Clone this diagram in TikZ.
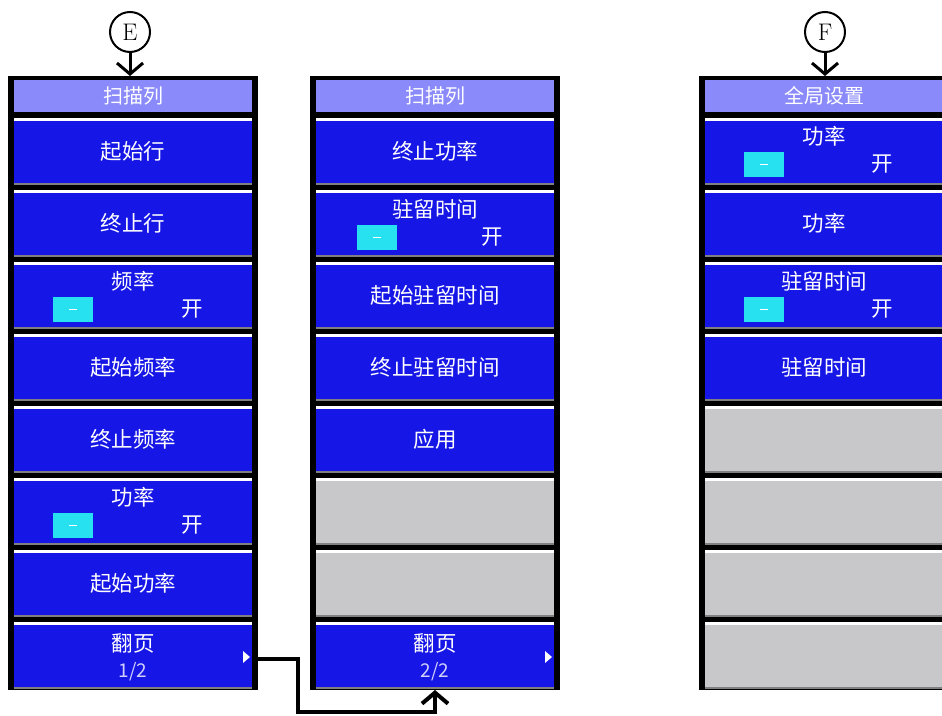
\documentclass[tikz,border=0pt]{standalone}
\usepackage{fontspec}
\newfontfamily\cjk{Noto Sans CJK SC}
\usepackage{tikz}
\usetikzlibrary{arrows.meta}
\definecolor{btnblue}{RGB}{22,22,230}
\definecolor{hdrblue}{RGB}{138,138,250}
\definecolor{btngray}{RGB}{200,200,202}
\definecolor{tglcyan}{RGB}{40,225,240}
\tikzset{
  panel/.style={draw, line width=4pt, fill=black, minimum width=246pt, minimum height=610pt, inner sep=0pt},
  hdr/.style={fill=hdrblue, minimum width=238pt, minimum height=32pt, inner sep=0pt, text=white, font=\cjk\fontsize{20}{22}\selectfont},
  menubtn/.style={fill=#1, minimum width=238pt, minimum height=66pt, inner sep=0pt,
    path picture={\draw[white, line width=5pt] (path picture bounding box.north west) -- (path picture bounding box.north east);
      \draw[gray, line width=3pt] (path picture bounding box.south west) -- (path picture bounding box.south east);}},
  menubtn/.default=btnblue,
  lbl/.style={text=white, inner sep=0pt, font=\cjk\fontsize{21.5}{24}\selectfont},
  pgno/.style={text=white!80!btnblue, inner sep=0pt, font=\cjk\fontsize{19}{21}\selectfont},
  tgl/.style={fill=tglcyan, minimum width=40pt, minimum height=25pt, inner sep=0pt,
    path picture={\draw[white, line width=1pt] ([xshift=-4pt]path picture bounding box.center) -- ([xshift=4pt]path picture bounding box.center);}},
  tag/.style={circle, draw, line width=2pt, minimum size=40pt, inner sep=0pt, font=\fontsize{24}{26}\selectfont},
  arr/.style={line width=3pt, -{Straight Barb[length=11pt, width=26pt]}},
}
\begin{document}
\begin{tikzpicture}[x=1pt, y=-1pt]
\clip (0,0) rectangle (942,715);
%\draw (0,0) rectangle (942,715);
\node[tag] (E) at (130,32) {E};
\node[tag] (F) at (825,32) {F};
\node[panel] (lpanel) at (133,383) {};
\node[panel] (mpanel) at (435,383) {};
\node[panel] (rpanel) at (824,383) {};
\node[hdr] (lhdr) at (133,96) {扫描列};
\node[hdr] (mhdr) at (435,96) {扫描列};
\node[hdr] (rhdr) at (824,96) {全局设置};
% left menu, page 1/2
\node[menubtn, lbl] (l1) at (133,151) {起始行};
\node[menubtn, lbl] (l2) at (133,223) {终止行};
\node[menubtn] (l3) at (133,295) {};
\node[lbl] (l3a) at (133,281) {频率};
\node[tgl] (l3b) at (73,309) {};
\node[lbl] (l3c) at (192,309) {开};
\node[menubtn, lbl] (l4) at (133,367) {起始频率};
\node[menubtn, lbl] (l5) at (133,439) {终止频率};
\node[menubtn] (l6) at (133,511) {};
\node[lbl] (l6a) at (133,497) {功率};
\node[tgl] (l6b) at (73,525) {};
\node[lbl] (l6c) at (192,525) {开};
\node[menubtn, lbl] (l7) at (133,583) {起始功率};
\node[menubtn] (l8) at (133,655) {};
\node[lbl] (l8a) at (133,643) {翻页};
\node[pgno] (l8b) at (133,672) {1/2};
\fill[white] (243,651) -- (250,657) -- (243,663) -- cycle;
% middle menu, page 2/2
\node[menubtn, lbl] (m1) at (435,151) {终止功率};
\node[menubtn] (m2) at (435,223) {};
\node[lbl] (m2a) at (435,209) {驻留时间};
\node[tgl] (m2b) at (377,237) {};
\node[lbl] (m2c) at (492,237) {开};
\node[menubtn, lbl] (m3) at (435,295) {起始驻留时间};
\node[menubtn, lbl] (m4) at (435,367) {终止驻留时间};
\node[menubtn, lbl] (m5) at (435,439) {应用};
\node[menubtn=btngray] (m6) at (435,511) {};
\node[menubtn=btngray] (m7) at (435,583) {};
\node[menubtn] (m8) at (435,655) {};
\node[lbl] (m8a) at (435,643) {翻页};
\node[pgno] (m8b) at (435,672) {2/2};
\fill[white] (545,651) -- (552,657) -- (545,663) -- cycle;
% global settings
\node[menubtn] (r1) at (824,151) {};
\node[lbl] (r1a) at (824,136) {功率};
\node[tgl] (r1b) at (764,164) {};
\node[lbl] (r1c) at (882,164) {开};
\node[menubtn, lbl] (r2) at (824,223) {功率};
\node[menubtn] (r3) at (824,295) {};
\node[lbl] (r3a) at (824,281) {驻留时间};
\node[tgl] (r3b) at (764,309) {};
\node[lbl] (r3c) at (882,309) {开};
\node[menubtn, lbl] (r4) at (824,367) {驻留时间};
\node[menubtn=btngray] (r5) at (824,439) {};
\node[menubtn=btngray] (r6) at (824,511) {};
\node[menubtn=btngray] (r7) at (824,583) {};
\node[menubtn=btngray] (r8) at (824,655) {};
\draw[arr] (E) -- (E |- lpanel.north);
\draw[arr] (F) -- (F |- rpanel.north);
\coordinate (cbot) at (298,712);
\draw[arr, line width=4pt] ([yshift=-4pt]lpanel.east |- l8) -| (cbot) -| (mpanel.south);
\end{tikzpicture}
\end{document}
